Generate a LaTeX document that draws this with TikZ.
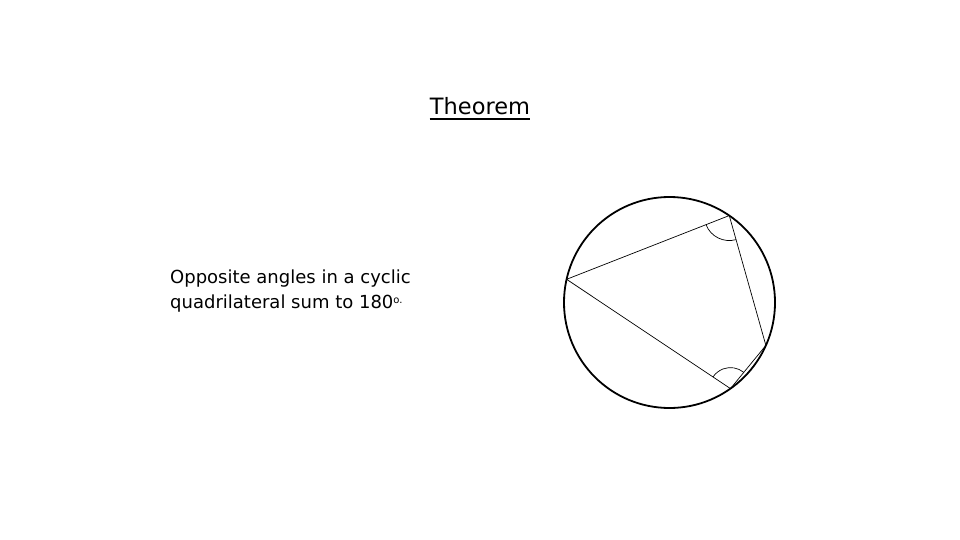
\documentclass[tikz,border=0pt]{standalone}
\usepackage{fontspec}
\setmainfont{DejaVu Sans}
\usetikzlibrary{angles,calc}
\begin{document}
\begin{tikzpicture}[x=1pt,y=1pt,
  rim/.style={draw=black,line width=1.8pt},
  side/.style={draw=black,line width=0.7pt},
  anglemark/.style={draw=black,line width=0.7pt},
  txt/.style={inner sep=0pt,font=\fontsize{18}{25}\selectfont,align=left,anchor=base west}]
\useasboundingbox[fill=white] (0,0) rectangle (960,-540);
% title
\node[inner sep=0pt,anchor=base,font=\fontsize{22.5}{26}\selectfont] (title) at (480,-115) {Theorem};
\draw[line width=1.4pt] ($(title.base west)+(0,-4)$) -- ($(title.base east)+(0,-4)$);
% statement
\node[txt] (stmt) at (170,-308) {Opposite angles in a cyclic\\quadrilateral sum to 180{\fontsize{10}{10}\selectfont\raisebox{5pt}{o.}}};
% circle and quadrilateral
\coordinate (O) at (669.5,-302.5);
\node[circle,rim,minimum size=211pt,inner sep=0pt] (circ) at (O) {};
\coordinate (A) at ($(O)+(167.3:105.5)$);
\coordinate (B) at ($(O)+(55.5:105.5)$);
\coordinate (C) at ($(O)+(-24:105.5)$);
\coordinate (D) at ($(O)+(-54.7:105.5)$);
\draw[side] (A) -- (B) -- (C) -- (D) -- cycle;
\pic[anglemark,angle radius=25pt] {angle=A--B--C};
\pic[anglemark,angle radius=21pt] {angle=C--D--A};
\end{tikzpicture}
\end{document}
